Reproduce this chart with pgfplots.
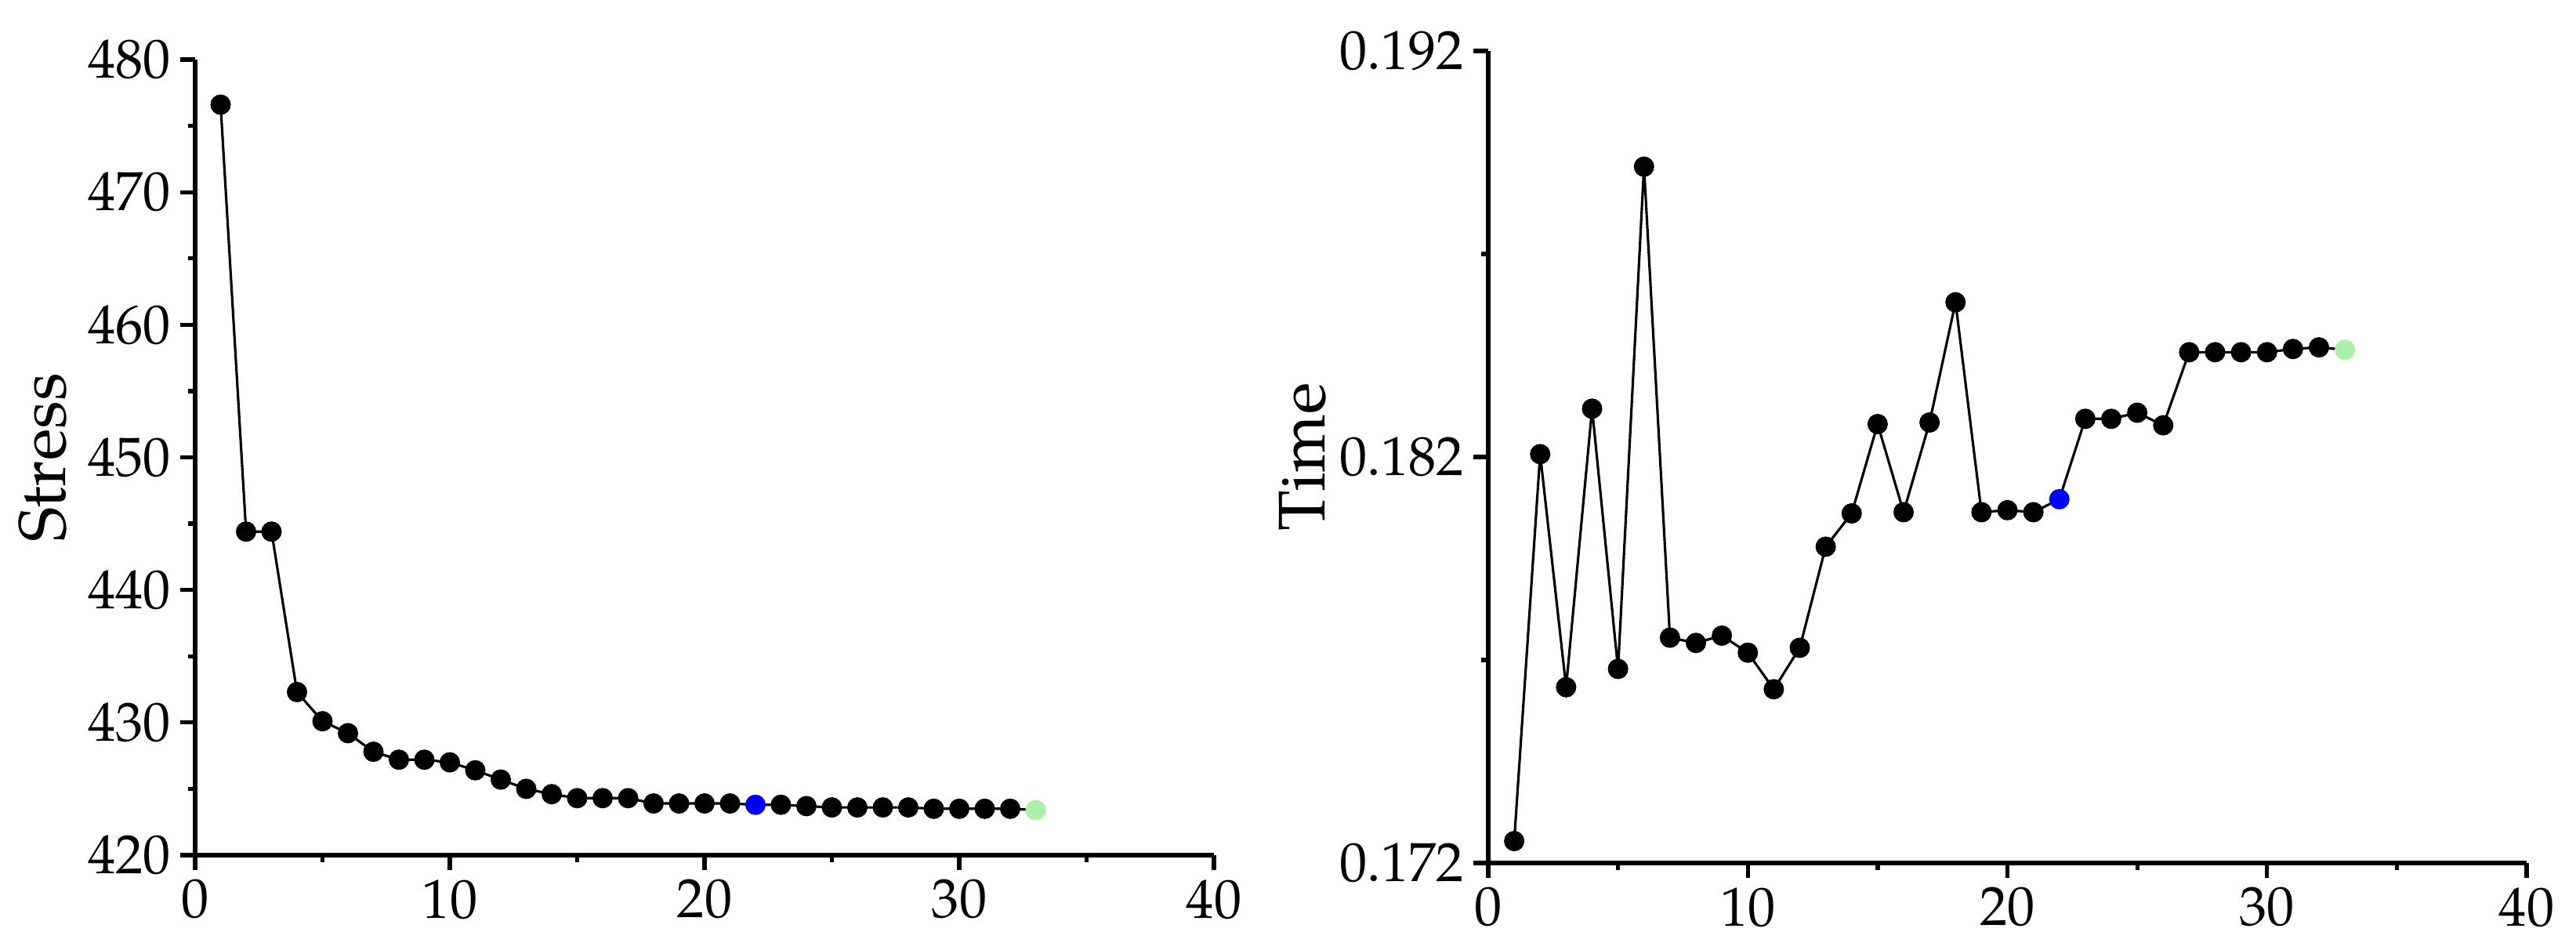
\documentclass[border=0pt]{standalone}
\usepackage{fontspec}
\setmainfont{TeX Gyre Pagella}
\usepackage{pgfplots}
\pgfplotsset{compat=1.18}
\definecolor{ptblue}{RGB}{0,0,255}
\definecolor{ptgreen}{RGB}{170,240,170}
\pgfplotstableread{
x y
1 476.6
2 444.4
3 444.4
4 432.3
5 430.1
6 429.2
7 427.8
8 427.2
9 427.2
10 427.0
11 426.4
12 425.7
13 425.0
14 424.6
15 424.3
16 424.3
17 424.3
18 423.9
19 423.9
20 423.9
21 423.9
22 423.8
23 423.8
24 423.7
25 423.6
26 423.6
27 423.6
28 423.6
29 423.5
30 423.5
31 423.5
32 423.5
33 423.4
}\stressdata
\pgfplotstableread{
x y
1 0.17254
2 0.18207
3 0.17633
4 0.18319
5 0.17678
6 0.18915
7 0.17755
8 0.17742
9 0.17760
10 0.17718
11 0.17628
12 0.17730
13 0.17979
14 0.18061
15 0.18281
16 0.18064
17 0.18285
18 0.18581
19 0.18064
20 0.18069
21 0.18064
22 0.18096
23 0.18294
24 0.18294
25 0.18309
26 0.18278
27 0.18458
28 0.18458
29 0.18458
30 0.18458
31 0.18466
32 0.18470
33 0.18464
}\timedata
\begin{document}
\begin{tikzpicture}
\useasboundingbox (0,0) rectangle (32.87,12.11);
\pgfplotsset{
 mystyle/.style={
  scale only axis,
  axis lines*=left,
  axis line style={line width=1.5pt},
  every tick/.style={line width=1.5pt, black},
  tick align=outside,
  major tick length=0.19cm,
  minor tick length=0.09cm,
  xmin=0, xmax=40, xtick={0,10,20,30,40}, minor x tick num=1,
  tick label style={font=\fontsize{20}{24}\selectfont},
  label style={font=\fontsize{24}{28}\selectfont},
  /pgf/number format/assume math mode=true,
  clip=false,
 },
 lineplot/.style={black, line width=0.9pt, mark=none},
 blackmarks/.style={only marks, mark=*, mark size=3.5pt, black, mark options={fill=black, draw=black}},
}
\begin{axis}[mystyle,
  at={(2.49cm,1.20cm)}, anchor=south west,
  width=13.0cm, height=10.15cm,
  ymin=420, ymax=480, ytick={420,430,...,480}, minor y tick num=1,
  ylabel={Stress},
  ylabel style={at={(axis description cs:-0.15,0.5)}, anchor=center},
]
\addplot[lineplot] table[x=x,y=y] {\stressdata};
\addplot[blackmarks] table[x=x,y=y, restrict x to domain=1:21] {\stressdata};
\addplot[blackmarks] table[x=x,y=y, restrict x to domain=23:32] {\stressdata};
\addplot[only marks, mark=*, mark size=3.5pt, mark options={fill=ptblue, draw=ptblue}] coordinates {(22,423.8)};
\addplot[only marks, mark=*, mark size=3.5pt, mark options={fill=ptgreen, draw=ptgreen}] coordinates {(33,423.4)};
\end{axis}
\begin{axis}[mystyle,
  at={(18.99cm,1.10cm)}, anchor=south west,
  width=13.25cm, height=10.36cm,
  ymin=0.172, ymax=0.192, ytick={0.172,0.182,0.192}, minor y tick num=1,
  scaled y ticks=false,
  yticklabel style={/pgf/number format/.cd, fixed, fixed zerofill, precision=3},
  ylabel={Time},
  ylabel style={at={(axis description cs:-0.179,0.5)}, anchor=center},
]
\addplot[lineplot] table[x=x,y=y] {\timedata};
\addplot[blackmarks] table[x=x,y=y, restrict x to domain=1:21] {\timedata};
\addplot[blackmarks] table[x=x,y=y, restrict x to domain=23:32] {\timedata};
\addplot[only marks, mark=*, mark size=3.5pt, mark options={fill=ptblue, draw=ptblue}] coordinates {(22,0.18096)};
\addplot[only marks, mark=*, mark size=3.5pt, mark options={fill=ptgreen, draw=ptgreen}] coordinates {(33,0.18464)};
\end{axis}
\end{tikzpicture}
\end{document}
